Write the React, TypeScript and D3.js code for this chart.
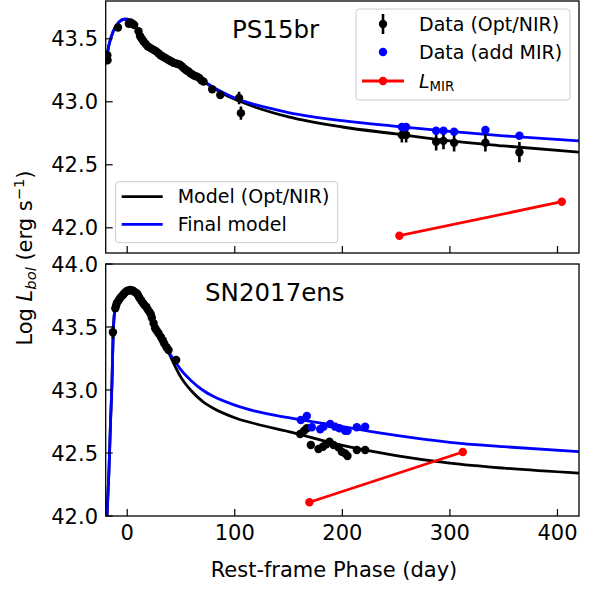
import React from 'react';
import * as d3 from 'd3';

// ---------- ticks ----------
const xTicks = [0, 100, 200, 300, 400];
const topYTicks = [42.0, 42.5, 43.0, 43.5];
const botYTicks = [42.0, 42.5, 43.0, 43.5, 44.0];

// ---------- PS15br ----------
// [day, logL, err]
const psOptNir: [number, number, number][] = [
  [-18.5, 43.37, 0], [-18.3, 43.33, 0], [-8.6, 43.59, 0], [1.5, 43.62, 0], [3, 43.63, 0],
  [5, 43.62, 0], [6.5, 43.61, 0], [10.5, 43.56, 0], [12, 43.52, 0], [13.5, 43.5, 0],
  [15, 43.48, 0], [17, 43.46, 0], [19, 43.44, 0], [21, 43.43, 0], [23, 43.42, 0],
  [25, 43.41, 0], [27, 43.4, 0], [29, 43.385, 0], [31, 43.37, 0], [33, 43.36, 0],
  [35, 43.35, 0], [37, 43.34, 0], [39, 43.33, 0], [41, 43.32, 0], [43, 43.31, 0],
  [45, 43.305, 0], [47, 43.3, 0], [49, 43.295, 0], [51, 43.28, 0], [53, 43.265, 0],
  [55, 43.25, 0], [57, 43.24, 0], [59, 43.225, 0], [61, 43.215, 0], [63, 43.205, 0],
  [65, 43.2, 0], [67, 43.19, 0], [69, 43.17, 0], [71, 43.16, 0], [79, 43.1, 0],
  [86.5, 43.054, 0], [104, 43.03, 0.05], [105.7, 42.91, 0.053],
  [255.3, 42.737, 0.06], [259.3, 42.737, 0.06], [287.2, 42.683, 0.069], [294, 42.69, 0.066],
  [303.9, 42.675, 0.07], [333, 42.675, 0.07], [364.6, 42.6, 0.08],
];
const psAddMir: [number, number][] = [
  [255.3, 42.8], [259.3, 42.8], [287.2, 42.77], [294, 42.77], [303.9, 42.763], [333, 42.776], [364.6, 42.73],
];
const psLmir: [number, number][] = [[253, 41.937], [404, 42.207]];
const psModelOpt: [number, number][] = [
  [-20, 43.3], [-17, 43.45], [-13, 43.56], [-8, 43.63], [-3, 43.655], [0, 43.655], [5, 43.625],
  [10, 43.57], [20, 43.46], [30, 43.385], [40, 43.325], [50, 43.275], [60, 43.225], [70, 43.17],
  [80, 43.11], [90, 43.06], [100, 43.02], [120, 42.955], [150, 42.88], [200, 42.8], [250, 42.745],
  [300, 42.69], [350, 42.65], [420, 42.6],
];
const psModelFinal: [number, number][] = [
  [-20, 43.3], [-17, 43.45], [-13, 43.56], [-8, 43.63], [-3, 43.655], [0, 43.655], [5, 43.625],
  [10, 43.57], [20, 43.46], [30, 43.385], [40, 43.325], [50, 43.275], [60, 43.225], [70, 43.17],
  [80, 43.115], [90, 43.07], [100, 43.03], [120, 42.975], [150, 42.915], [200, 42.85], [250, 42.805],
  [300, 42.765], [350, 42.73], [420, 42.69],
];

// ---------- SN2017ens ----------
const snOptNir: [number, number, number][] = [
  [-13.3, 43.458, 0.05], [-11.1, 43.648, 0], [-10.3, 43.67, 0], [-9.6, 43.69, 0], [-8, 43.71, 0],
  [-6.5, 43.73, 0], [-5, 43.745, 0], [-3.4, 43.76, 0], [-2, 43.775, 0], [-0.3, 43.786, 0],
  [1.2, 43.79, 0], [2.8, 43.794, 0], [4.5, 43.79, 0], [5.9, 43.786, 0], [7.5, 43.775, 0],
  [9, 43.767, 0], [10.2, 43.75, 0], [11.4, 43.73, 0], [13, 43.71, 0], [14.6, 43.69, 0],
  [16, 43.675, 0], [17.7, 43.66, 0], [19, 43.64, 0], [20.7, 43.62, 0], [22, 43.6, 0],
  [22.9, 43.574, 0], [24.5, 43.53, 0], [26, 43.49, 0], [27.5, 43.47, 0], [29.1, 43.45, 0],
  [31.3, 43.42, 0], [33, 43.395, 0], [34.4, 43.37, 0], [36.5, 43.34, 0], [38.4, 43.317, 0],
  [45.5, 43.238, 0],
  [160.8, 42.651, 0], [164.5, 42.677, 0], [167, 42.696, 0], [170.7, 42.563, 0], [177.8, 42.532, 0],
  [181.9, 42.55, 0], [185, 42.57, 0], [188, 42.59, 0], [191.8, 42.563, 0], [196.4, 42.545, 0],
  [199.5, 42.51, 0], [202.6, 42.497, 0], [204.8, 42.476, 0], [213.5, 42.524, 0], [221.2, 42.524, 0],
];
const snAddMir: [number, number][] = [
  [161.4, 42.762], [167, 42.794], [171.6, 42.704], [179.4, 42.688], [182.5, 42.709], [188.7, 42.73],
  [193.3, 42.709], [197.3, 42.696], [202.6, 42.677], [204.8, 42.677], [213.5, 42.704], [221.2, 42.709],
];
const snLmir: [number, number][] = [[169.4, 42.109], [312, 42.508]];
const snModelOpt: [number, number][] = [
  [-18.8, 42.0], [-17, 42.35], [-15.5, 42.75], [-14.2, 43.05], [-13.2, 43.4], [-12, 43.6],
  [-10, 43.69], [-7, 43.74], [-3, 43.775], [1, 43.79], [4, 43.79], [8, 43.77], [12, 43.73],
  [16, 43.68], [20, 43.62], [25, 43.54], [30, 43.45], [35, 43.36], [40, 43.27], [45, 43.18],
  [50, 43.1], [60, 42.99], [70, 42.91], [80, 42.855], [100, 42.78], [120, 42.73], [150, 42.67],
  [200, 42.56], [250, 42.48], [300, 42.42], [350, 42.38], [420, 42.34],
];
const snModelFinal: [number, number][] = [
  [-18.8, 42.0], [-17, 42.35], [-15.5, 42.75], [-14.2, 43.05], [-13.2, 43.4], [-12, 43.6],
  [-10, 43.69], [-7, 43.74], [-3, 43.775], [1, 43.79], [4, 43.79], [8, 43.77], [12, 43.73],
  [16, 43.68], [20, 43.62], [25, 43.54], [30, 43.45], [35, 43.365], [40, 43.285], [45, 43.22],
  [50, 43.16], [60, 43.07], [70, 43.0], [80, 42.95], [100, 42.88], [120, 42.83], [150, 42.78],
  [200, 42.71], [250, 42.64], [300, 42.585], [350, 42.55], [420, 42.51],
];

const FONT = 'DejaVu Sans, sans-serif';
const BLUE = '#0000ff';
const RED = '#ff0000';

const x = d3.scaleLinear().domain([-20, 420]).range([105.7, 579]);

type PanelProps = {
  y: d3.ScaleLinear<number, number>;
  yTicks: number[];
  name: string;
  nameX: number;
  nameY: number;
  showXLabels: boolean;
  optNir: [number, number, number][];
  addMir: [number, number][];
  lmir: [number, number][];
  modelOpt: [number, number][];
  modelFinal: [number, number][];
  clipId: string;
};

function Panel(p: PanelProps) {
  const [y0, y1] = p.y.range();
  const top = Math.min(y0, y1);
  const bottom = Math.max(y0, y1);
  const [left, right] = x.range();
  const line = d3
    .line<[number, number]>()
    .x((d) => x(d[0]))
    .y((d) => p.y(d[1]))
    .curve(d3.curveMonotoneX);
  return (
    <g>
      <defs>
        <clipPath id={p.clipId}>
          <rect x={left} y={top} width={right - left} height={bottom - top} />
        </clipPath>
      </defs>
      <g clipPath={`url(#${p.clipId})`}>
        <path d={line(p.modelOpt) || ''} fill="none" stroke="#000" strokeWidth={2.8} />
        <path d={line(p.modelFinal) || ''} fill="none" stroke={BLUE} strokeWidth={2.8} />
        {p.optNir.map((d, i) => (
          <g key={'o' + i}>
            {d[2] > 0 && (
              <line x1={x(d[0])} x2={x(d[0])} y1={p.y(d[1] - d[2])} y2={p.y(d[1] + d[2])} stroke="#000" strokeWidth={2.6} />
            )}
            <circle cx={x(d[0])} cy={p.y(d[1])} r={4.2} fill="#000" />
          </g>
        ))}
        {p.addMir.map((d, i) => (
          <circle key={'b' + i} cx={x(d[0])} cy={p.y(d[1])} r={4.2} fill={BLUE} />
        ))}
        <path d={d3.line<[number, number]>().x((d) => x(d[0])).y((d) => p.y(d[1]))(p.lmir) || ''} fill="none" stroke={RED} strokeWidth={2.8} />
        {p.lmir.map((d, i) => (
          <circle key={'r' + i} cx={x(d[0])} cy={p.y(d[1])} r={4.2} fill={RED} />
        ))}
      </g>
      <rect x={left} y={top} width={right - left} height={bottom - top} fill="none" stroke="#000" strokeWidth={1.3} />
      {xTicks.map((t) => (
        <g key={'xt' + t}>
          <line x1={x(t)} x2={x(t)} y1={bottom} y2={bottom - 7} stroke="#000" strokeWidth={1.2} />
          {p.showXLabels && (
            <text x={x(t)} y={540} fontSize={21} textAnchor="middle" fontFamily={FONT}>
              {t}
            </text>
          )}
        </g>
      ))}
      {p.yTicks.map((t) => (
        <g key={'yt' + t}>
          <line x1={left} x2={left + 7} y1={p.y(t)} y2={p.y(t)} stroke="#000" strokeWidth={1.2} />
          <text x={98} y={p.y(t) + 7.5} fontSize={21} textAnchor="end" fontFamily={FONT}>
            {t.toFixed(1)}
          </text>
        </g>
      ))}
      <text x={p.nameX} y={p.nameY} fontSize={24.5} fontFamily={FONT}>
        {p.name}
      </text>
    </g>
  );
}

export default function App() {
  const yTop = d3.scaleLinear().domain([41.8, 43.8]).range([253, 1]);
  const yBot = d3.scaleLinear().domain([42.0, 44.0]).range([516, 264]);
  const lg1x = 419;
  const h1 = 383;
  return (
    <svg
      width={589}
      height={590}
      viewBox="0 0 589 590"
      style={{ position: 'absolute', left: 0, top: 0, background: '#fff' }}
      fontFamily={FONT}
    >
      <rect x={0} y={0} width={589} height={590} fill="#fff" />
      <Panel
        y={yTop}
        yTicks={topYTicks}
        name="PS15br"
        nameX={232}
        nameY={38}
        showXLabels={false}
        optNir={psOptNir}
        addMir={psAddMir}
        lmir={psLmir}
        modelOpt={psModelOpt}
        modelFinal={psModelFinal}
        clipId="clipTop"
      />
      <Panel
        y={yBot}
        yTicks={botYTicks}
        name="SN2017ens"
        nameX={205}
        nameY={301}
        showXLabels={true}
        optNir={snOptNir}
        addMir={snAddMir}
        lmir={snLmir}
        modelOpt={snModelOpt}
        modelFinal={snModelFinal}
        clipId="clipBot"
      />

      {/* Legend 1 (data) */}
      <rect x={356} y={9} width={214} height={91} rx={3} fill="#fff" fillOpacity={0.8} stroke="#cccccc" strokeWidth={1} />
      <line x1={h1} x2={h1} y1={14} y2={34} stroke="#000" strokeWidth={2.6} />
      <circle cx={h1} cy={24} r={4.2} fill="#000" />
      <text x={lg1x} y={31} fontSize={19}>Data (Opt/NIR)</text>
      <circle cx={h1} cy={52} r={4.2} fill={BLUE} />
      <text x={lg1x} y={59} fontSize={19}>Data (add MIR)</text>
      <line x1={h1 - 21} x2={h1 + 21} y1={81} y2={81} stroke={RED} strokeWidth={2.8} />
      <circle cx={h1} cy={81} r={4.2} fill={RED} />
      <text x={lg1x} y={87.5} fontSize={19}>
        <tspan fontStyle="italic">L</tspan>
        <tspan fontSize={13.3} dy={3.5}>MIR</tspan>
      </text>

      {/* Legend 2 (models) */}
      <rect x={115.7} y={181.7} width={222} height={61} rx={3} fill="#fff" fillOpacity={0.8} stroke="#cccccc" strokeWidth={1} />
      <line x1={121.7} x2={162.7} y1={196.7} y2={196.7} stroke="#000" strokeWidth={2.8} />
      <text x={177.7} y={203.4} fontSize={19}>Model (Opt/NIR)</text>
      <line x1={121.7} x2={162.7} y1={224.3} y2={224.3} stroke={BLUE} strokeWidth={2.8} />
      <text x={177.7} y={231} fontSize={19}>Final model</text>

      {/* Axis labels */}
      <text x={334} y={577} fontSize={21} textAnchor="middle">
        Rest-frame Phase (day)
      </text>
      <text transform="translate(32,258) rotate(-90)" fontSize={21} textAnchor="middle">
        Log <tspan fontStyle="italic">L</tspan>
        <tspan fontStyle="italic" fontSize={14.7} dy={3.5}>bol</tspan>
        <tspan dy={-3.5}> (erg s</tspan>
        <tspan fontSize={14.7} dy={-8}>−1</tspan>
        <tspan dy={8}>)</tspan>
      </text>
    </svg>
  );
}
